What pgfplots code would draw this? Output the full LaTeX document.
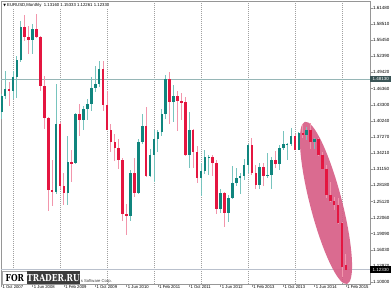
\documentclass[border=0pt]{standalone}
\usepackage{pgfplots}
\pgfplotsset{compat=1.18}
\usepackage{pgfplotstable}
\usepackage{graphicx}
\usepackage{fontspec}
\setmainfont{Liberation Sans}
\newfontfamily\wmfont{DejaVu Serif}
\newfontfamily\symfont{DejaVu Sans}

\definecolor{bull}{RGB}{16,133,126}
\definecolor{bear}{RGB}{228,22,64}
\definecolor{bullwick}{RGB}{120,196,190}
\definecolor{bearwick}{RGB}{242,150,172}
\definecolor{gridc}{RGB}{160,160,160}
\definecolor{framec}{RGB}{150,150,150}
\definecolor{hlinec}{RGB}{150,182,182}
\definecolor{plinec}{RGB}{185,192,204}
\definecolor{ellc}{RGB}{214,92,133}
\definecolor{boxA}{RGB}{58,84,86}
\definecolor{wmdark}{RGB}{60,60,60}

% month index: Jan 2008 = 0
\pgfplotstableread{
m o h l c
-3 1.4190 1.4527 1.4070 1.4487
-2 1.4487 1.4967 1.4436 1.4630
0 1.4590 1.4967 1.4437 1.4860
1 1.4860 1.5239 1.4453 1.5180
2 1.5180 1.5904 1.5140 1.5785
5 1.5545 1.5845 1.5284 1.5760
11 1.2690 1.4720 1.2660 1.3977
14 1.2670 1.3740 1.2456 1.3250
16 1.3235 1.4170 1.3220 1.4150
18 1.4035 1.4305 1.3855 1.4255
19 1.4255 1.4445 1.4045 1.4340
20 1.4340 1.4845 1.4205 1.4640
21 1.4640 1.5063 1.4575 1.4715
22 1.4715 1.5145 1.4670 1.5000
30 1.2235 1.3106 1.2155 1.3050
32 1.2680 1.3685 1.2660 1.3630
33 1.3630 1.4160 1.3600 1.3935
35 1.2990 1.3500 1.2970 1.3380
36 1.3380 1.3862 1.2870 1.3690
37 1.3690 1.3862 1.3445 1.3810
38 1.3810 1.4250 1.3750 1.4165
39 1.4165 1.4882 1.4065 1.4808
41 1.4390 1.4700 1.4010 1.4500
45 1.3385 1.4195 1.3145 1.3865
48 1.2960 1.3235 1.2625 1.3080
49 1.3080 1.3487 1.3030 1.3340
50 1.3340 1.3385 1.3005 1.3345
53 1.2370 1.2750 1.2288 1.2665
55 1.2300 1.2640 1.2130 1.2575
56 1.2575 1.3172 1.2560 1.2860
57 1.2860 1.3140 1.2800 1.2955
58 1.2955 1.3040 1.2660 1.2985
59 1.2985 1.3310 1.2925 1.3195
60 1.3195 1.3600 1.3040 1.3580
63 1.2820 1.3245 1.2745 1.3165
65 1.2995 1.3417 1.2955 1.3010
66 1.3010 1.3346 1.2755 1.3300
68 1.3220 1.3568 1.3105 1.3525
69 1.3525 1.3832 1.3480 1.3585
70 1.3585 1.3620 1.3295 1.3590
71 1.3590 1.3893 1.3550 1.3745
73 1.3485 1.3825 1.3475 1.3805
75 1.3770 1.3907 1.3673 1.3865
77 1.3635 1.3700 1.3502 1.3690
}\upt

\pgfplotstableread{
m o h l c
-1 1.4630 1.4756 1.4298 1.4590
3 1.5785 1.6019 1.5519 1.5600
4 1.5600 1.5819 1.5285 1.5545
6 1.5760 1.6038 1.5575 1.5600
7 1.5600 1.5620 1.4580 1.4675
8 1.4675 1.4867 1.3880 1.4085
9 1.4085 1.4095 1.2330 1.2730
10 1.2730 1.3300 1.2425 1.2690
12 1.3977 1.4005 1.2745 1.2805
13 1.2805 1.3050 1.2455 1.2670
15 1.3250 1.3472 1.2885 1.3235
17 1.4150 1.4340 1.3746 1.4035
23 1.5000 1.5143 1.4218 1.4320
24 1.4320 1.4580 1.3857 1.3865
25 1.3865 1.3962 1.3435 1.3625
26 1.3625 1.3787 1.3267 1.3510
27 1.3510 1.3692 1.3115 1.3290
28 1.3290 1.3323 1.2144 1.2270
29 1.2270 1.2474 1.1876 1.2235
31 1.3050 1.3335 1.2588 1.2680
34 1.3935 1.4282 1.2968 1.2990
40 1.4808 1.4940 1.3970 1.4390
42 1.4500 1.4580 1.3837 1.4395
43 1.4395 1.4550 1.4050 1.4375
44 1.4375 1.4470 1.3363 1.3385
46 1.3865 1.3875 1.3145 1.3445
47 1.3445 1.3550 1.2858 1.2960
51 1.3345 1.3385 1.3000 1.3235
52 1.3235 1.3285 1.2285 1.2370
54 1.2665 1.2690 1.2042 1.2300
61 1.3580 1.3712 1.3015 1.3055
62 1.3055 1.3205 1.2750 1.2820
64 1.3165 1.3242 1.2795 1.2995
67 1.3300 1.3452 1.3150 1.3220
72 1.3745 1.3775 1.3478 1.3485
74 1.3805 1.3967 1.3705 1.3770
76 1.3865 1.3993 1.3503 1.3635
78 1.3690 1.3700 1.3366 1.3390
79 1.3390 1.3445 1.3130 1.3130
80 1.3130 1.3190 1.2570 1.2630
81 1.2630 1.2887 1.2500 1.2525
82 1.2525 1.2600 1.2357 1.2450
83 1.2450 1.2570 1.2097 1.2100
84 1.2100 1.2125 1.1098 1.1290
85 1.1316 1.1533 1.1226 1.1233
}\dnt

\pgfplotsset{candle/.style={only marks, mark=none, mark size=0pt, draw=none, forget plot,
  error bars/.cd, y dir=both, y explicit, error mark=none}}

\begin{document}
\begin{tikzpicture}
\fill[white] (0,0) rectangle (391bp,293bp);
\useasboundingbox (0,0) rectangle (391bp,293bp);
\begin{axis}[
  at={(1bp,9bp)}, anchor=south west,
  scale only axis, width=369bp, height=283bp,
  xmin=-3.064, xmax=91.15, ymin=1.09624, ymax=1.62795,
  axis line style={draw=framec, line width=0.6bp},
  clip mode=individual,
  xtick={-3,5,13,21,29,37,45,53,61,69,77,85},
  xticklabels={1 Oct 2007,1 Jun 2008,1 Feb 2009,1 Oct 2009,1 Jun 2010,1 Feb 2011,1 Oct 2011,1 Jun 2012,1 Feb 2013,1 Oct 2013,1 Jun 2014,1 Feb 2015},
  ytick={1.10000,1.12970,1.16030,1.19090,1.22060,1.25120,1.28180,1.31150,1.34210,1.37270,1.40240,1.43300,1.46360,1.49420,1.52390,1.55450,1.58510,1.61480},
  yticklabels={1.10000,1.12970,1.16030,1.19090,1.22060,1.25120,1.28180,1.31150,1.34210,1.37270,1.40240,1.43300,1.46360,1.49420,1.52390,1.55450,1.58510,1.61480},
  xtick pos=left, ytick pos=right,
  xticklabel pos=left, yticklabel pos=right,
  tick align=outside, major tick length=3bp,
  tick style={draw=framec, line width=0.5bp},
  xticklabel style={font=\fontsize{4.2}{5}\selectfont, anchor=west, inner sep=0pt, xshift=1.2bp, yshift=0bp},
  yticklabel style={font=\fontsize{4.5}{5}\selectfont, anchor=west, inner sep=0pt, xshift=0bp},
]
\pgfplotsinvokeforeach{0,12,24,36,48,60,72,84}{
  \draw[gridc, line width=0.5bp, dash pattern=on 1bp off 1bp] (axis cs:#1,1.09624) -- (axis cs:#1,1.62795);
}
\draw[hlinec, line width=0.8bp] (axis cs:-3.064,1.4813) -- (axis cs:91.15,1.4813);
\draw[plinec, line width=0.8bp] (axis cs:-3.064,1.1233) -- (axis cs:91.15,1.1233);
\fill[ellc, opacity=0.9, rotate around={14.5:(axis cs:79.91,1.24862)}] (axis cs:79.91,1.24862) ellipse [x radius=16bp, y radius=83.8bp];

\addplot[candle, error bar style={line width=0.9bp, draw=bullwick, solid}]
  table[x=m, y expr={(\thisrow{h}+\thisrow{l})/2}, y error expr={(\thisrow{h}-\thisrow{l})/2}] {\upt};
\addplot[candle, error bar style={line width=0.9bp, draw=bearwick, solid}]
  table[x=m, y expr={(\thisrow{h}+\thisrow{l})/2}, y error expr={(\thisrow{h}-\thisrow{l})/2}] {\dnt};
\addplot[candle, error bar style={line width=2.6bp, draw=bull, solid}]
  table[x=m, y expr={(\thisrow{o}+\thisrow{c})/2}, y error expr={max(abs(\thisrow{c}-\thisrow{o})/2,0.0008)}] {\upt};
\addplot[candle, error bar style={line width=2.6bp, draw=bear, solid}]
  table[x=m, y expr={(\thisrow{o}+\thisrow{c})/2}, y error expr={max(abs(\thisrow{c}-\thisrow{o})/2,0.0008)}] {\dnt};

\node[fill=boxA, text=white, anchor=west, inner sep=0pt, minimum width=21bp, minimum height=6.5bp, font=\fontsize{4.5}{5}\selectfont] at (axis cs:91.15,1.4813) {1.48130};
\node[fill=black, text=white, anchor=west, inner sep=0pt, minimum width=21bp, minimum height=6.5bp, font=\fontsize{4.5}{5}\selectfont] at (axis cs:91.15,1.1233) {1.12330};
\node[fill=white, anchor=west, inner sep=0.6bp, font=\fontsize{4.3}{5}\selectfont] at (axis description cs:0.004,0.983) {{\symfont\fontsize{3.5}{4}\selectfont ▼}\ EURUSD,Monthly\ \ 1.13160 1.15333 1.12261 1.12330};
\end{axis}
% copyright remnant and watermark
\node[anchor=west, inner sep=0pt, text=black!75, font=\fontsize{4.2}{5}\selectfont] at (80.6bp,12bp) {s Software Corp.};
\fill[white, draw=black!35, line width=0.4bp] (2.5bp,9bp) rectangle (27bp,21.5bp);
\fill[wmdark] (27bp,9bp) rectangle (80bp,21.5bp);
\node[inner sep=0pt, text=black, font=\wmfont\bfseries\fontsize{9.6}{10}\selectfont] at (14.8bp,15.2bp) {\scalebox{0.8}[1]{FOR}};
\node[inner sep=0pt, text=white, font=\wmfont\bfseries\fontsize{9.6}{10}\selectfont] at (53.5bp,15.2bp) {\scalebox{0.8}[1]{TRADER.RU}};
\end{tikzpicture}
\end{document}
